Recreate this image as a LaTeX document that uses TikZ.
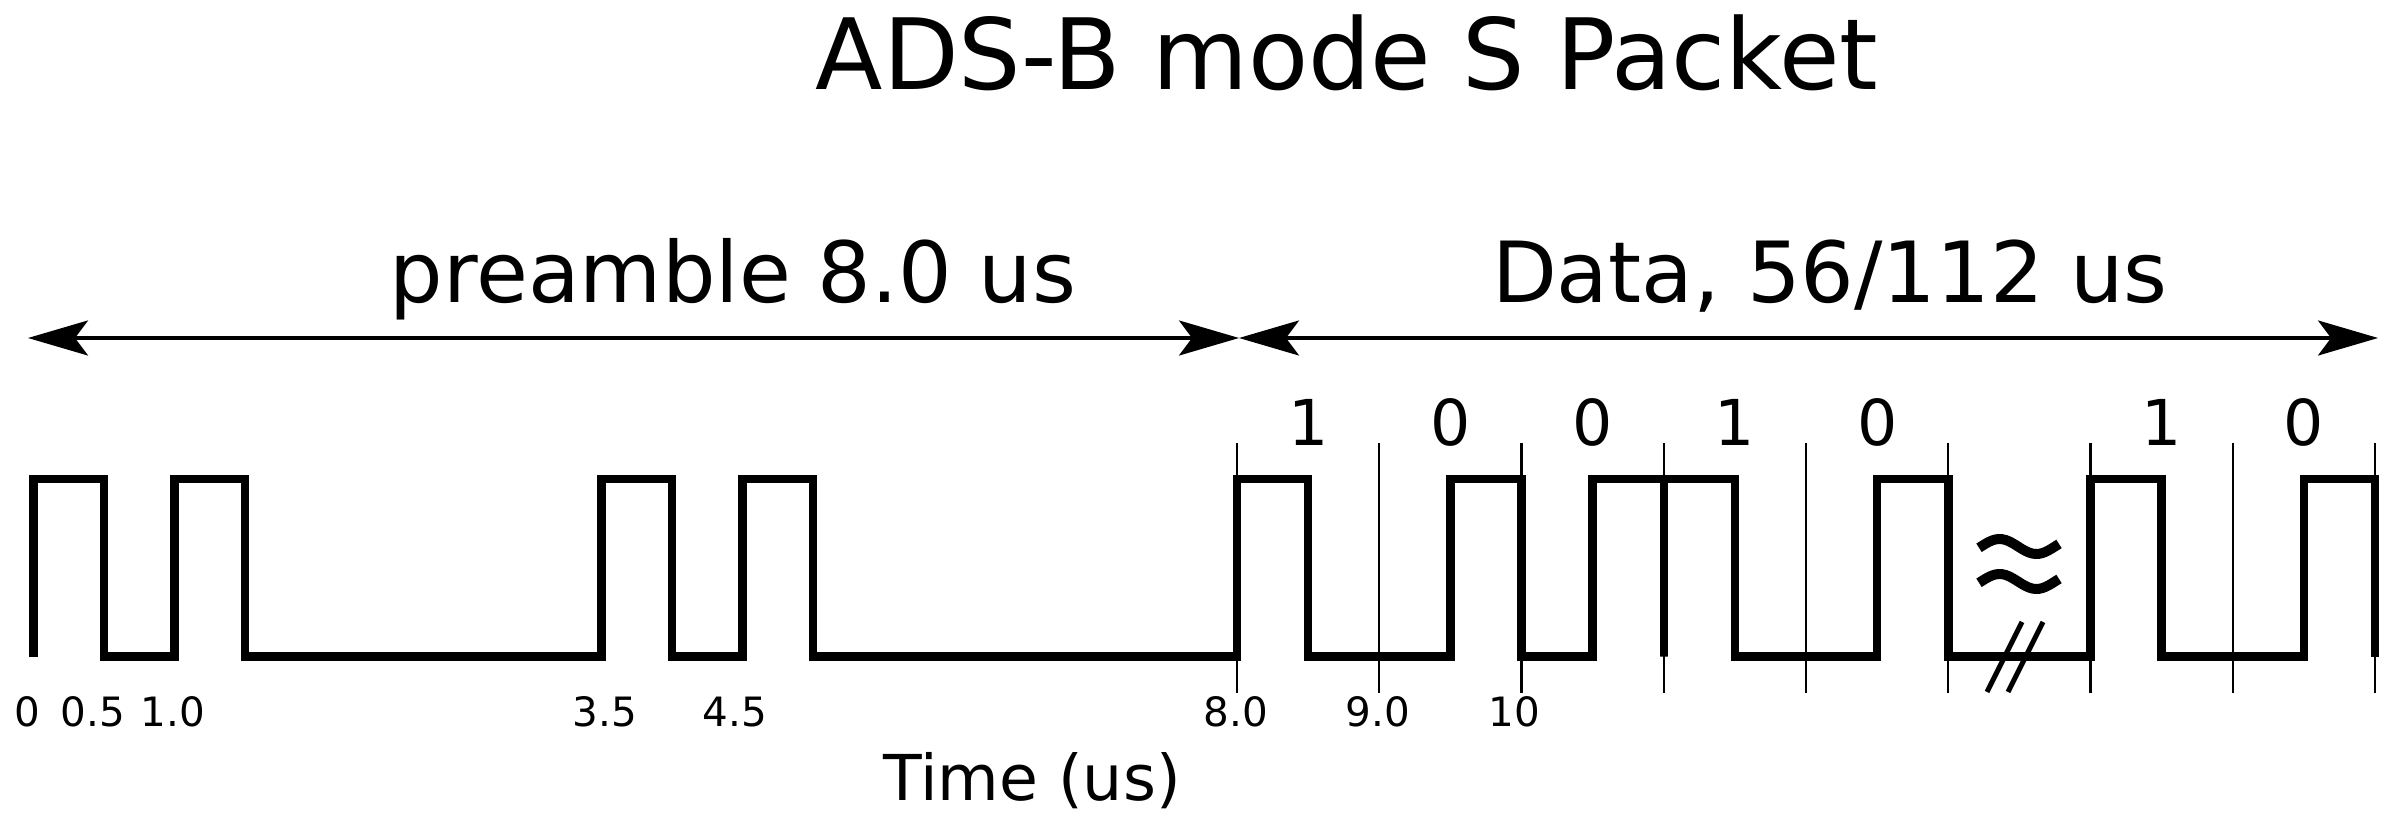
\documentclass[tikz,border=0pt]{standalone}
\usepackage{fontspec}
\setmainfont{DejaVu Sans}
\usetikzlibrary{arrows.meta}

\tikzset{
    signal/.style={line width=0.085cm},
    slot/.style={line width=0.6pt},
    bitlabel/.style={anchor=base, font=\fontsize{18}{22}\selectfont},
    ticklabel/.style={anchor=base, font=\fontsize{11.5}{13}\selectfont},
    spanlabel/.style={anchor=base, font=\fontsize{24}{29}\selectfont},
}

\begin{document}
\begin{tikzpicture}[>={Stealth[length=6mm,width=3.5mm,inset=1.3mm]}, y=-1cm]
    \useasboundingbox (0,0) rectangle (24,8.29);

    % title
    \node[anchor=base, font=\fontsize{28}{34}\selectfont] (title) at (13.47,0.90) {ADS-B mode S Packet};

    % preamble and data spans
    \coordinate (pre_L) at (0.28,3.38);
    \coordinate (split) at (12.39,3.38);
    \coordinate (data_R) at (23.78,3.38);
    \node[spanlabel] (pre_lbl) at (7.33,3.03) {preamble 8.0 us};
    \node[spanlabel] (data_lbl) at (18.30,3.03) {Data, 56/112 us};
    \draw[<->, line width=1pt] (pre_L) -- (split);
    \draw[<->, line width=1pt] (split) -- (data_R);

    % bit slots
    \foreach \k in {0,...,8}
        \draw[slot] ({12.37+1.4225*\k},4.43) -- ++(0,2.5);

    % pulse train
    \draw[signal] (0.335,6.565) |- (1.04,4.79) |- (1.745,6.565) |- (2.449,4.79)
        |- (6.015,6.565) |- (6.719,4.79) |- (7.423,6.565) |- (8.128,4.79)
        |- (12.37,6.565) |- (13.081,4.79) |- (14.504,6.565) |- (15.215,4.79)
        |- (15.926,6.565) |- (16.638,4.79) -- (16.638,6.565) |- (17.349,4.79)
        |- (18.771,6.565) |- (19.483,4.79) |- (20.905,6.565) |- (21.616,4.79)
        |- (23.039,6.565) |- (23.75,4.79) -- (23.75,6.565);

    % bit values
    \foreach \k/\b in {0/1,1/0,2/0,3/1,4/0,6/1,7/0}
        \node[bitlabel] (bit\k) at ({12.37+1.4225*(\k+0.5)},4.45) {\b};

    % break in the time line
    \foreach \yy in {5.465,5.815}
        \draw[line width=0.1cm, domain=0:1, samples=25] plot ({19.79+0.8*\x}, {\yy-0.075*sin(390*\x-10)});
    \draw[line width=0.05cm] (19.87,6.92) -- (20.22,6.22);
    \draw[line width=0.05cm] (20.08,6.92) -- (20.43,6.22);

    % time axis
    \foreach \xx/\lbl [count=\i] in {0.27/0, 0.93/0.5, 1.73/1.0, 6.05/3.5, 7.35/4.5, 12.36/8.0, 13.78/9.0, 15.14/10}
        \node[ticklabel] (tick\i) at (\xx,7.26) {\lbl};
    \node[anchor=base, font=\fontsize{18}{22}\selectfont] (time_lbl) at (10.32,8.0) {Time (us)};
\end{tikzpicture}
\end{document}
